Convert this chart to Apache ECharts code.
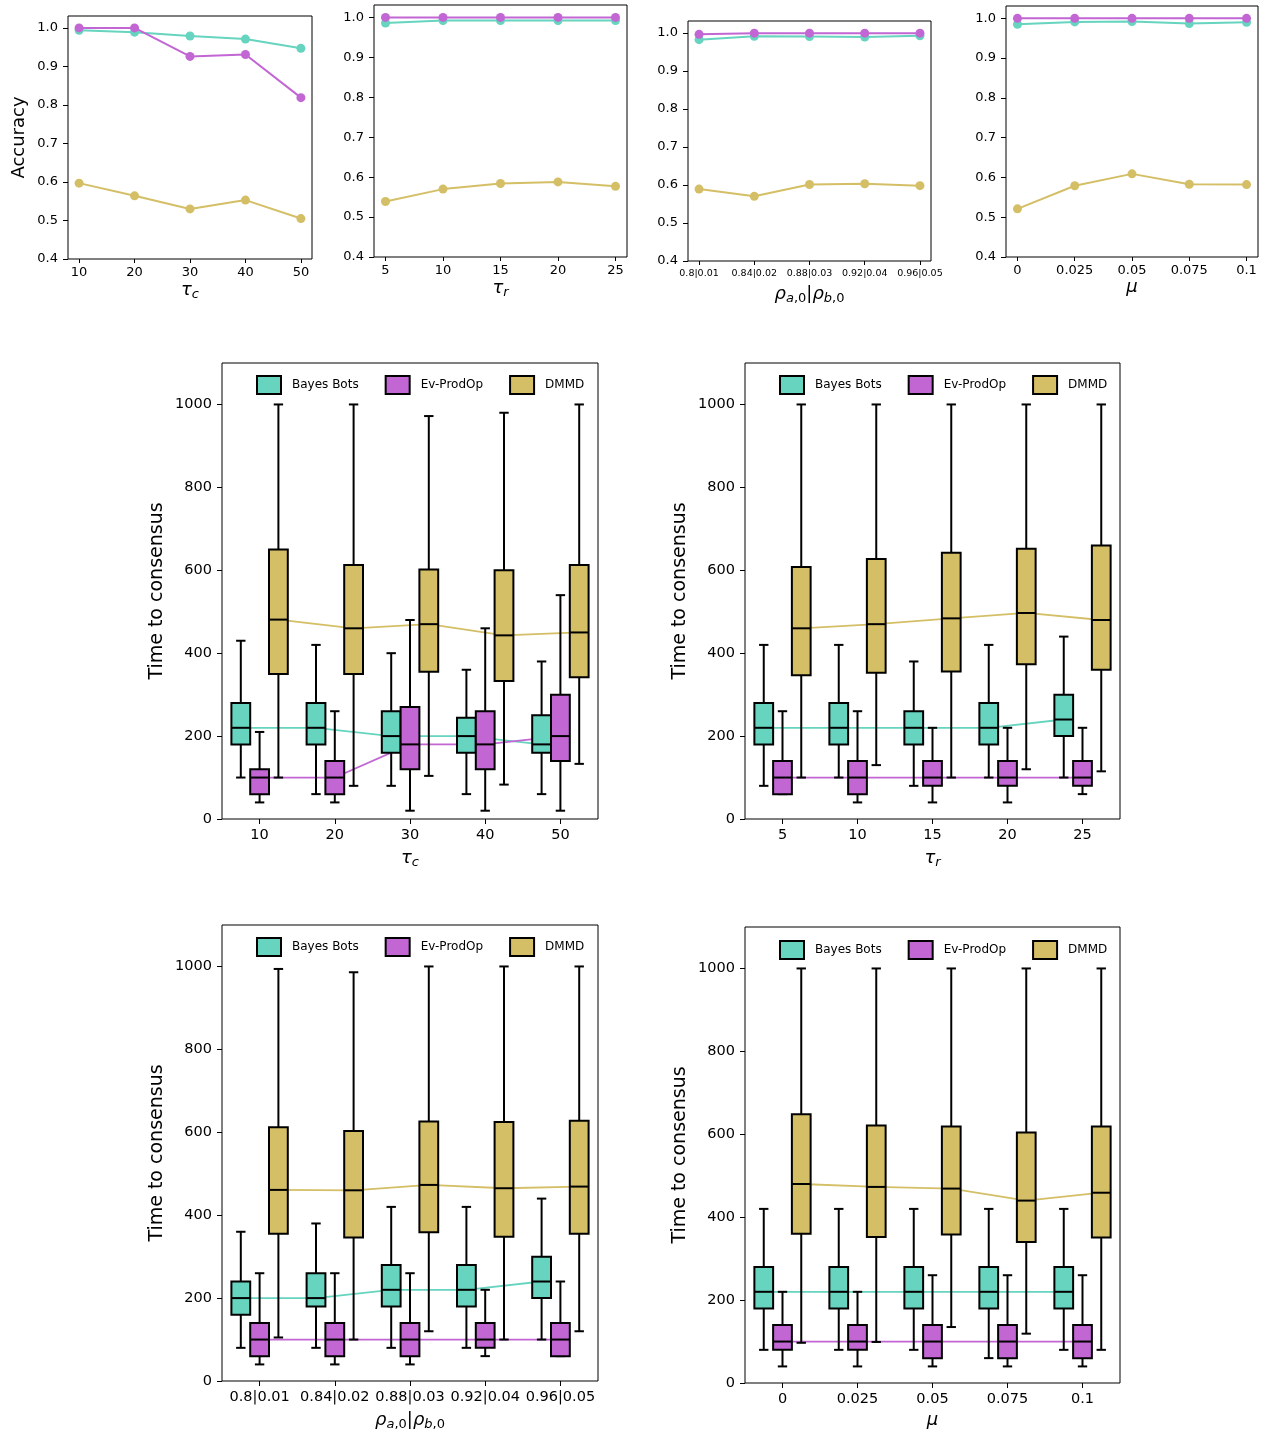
<!DOCTYPE html>
<html><head><meta charset="utf-8">
<script src="https://cdn.jsdelivr.net/npm/echarts@6/dist/echarts.min.js"></script>
<style>html,body{margin:0;padding:0;background:#fff}#c{width:1267px;height:1437px}</style>
</head><body><div id="c"></div>
<script>
// ---------------- DATA ----------------
const methodNames = ['Bayes Bots', 'Ev-ProdOp', 'DMMD'];

const tauCLabels = ['10', '20', '30', '40', '50'];
const tauRLabels = ['5', '10', '15', '20', '25'];
const rhoLabels  = ['0.8|0.01', '0.84|0.02', '0.88|0.03', '0.92|0.04', '0.96|0.05'];
const muLabels   = ['0', '0.025', '0.05', '0.075', '0.1'];

const accTicks  = [0.4, 0.5, 0.6, 0.7, 0.8, 0.9, 1.0];
const timeTicks = [0, 200, 400, 600, 800, 1000];

// Accuracy (top row)
const accTauC_bayes  = [0.994, 0.989, 0.979, 0.971, 0.947];
const accTauC_evprod = [1.000, 1.000, 0.926, 0.931, 0.819];
const accTauC_dmmd   = [0.597, 0.564, 0.530, 0.553, 0.505];

const accTauR_bayes  = [0.986, 0.992, 0.992, 0.992, 0.992];
const accTauR_evprod = [1.000, 1.000, 1.000, 1.000, 1.000];
const accTauR_dmmd   = [0.539, 0.570, 0.584, 0.588, 0.577];

const accRho_bayes   = [0.982, 0.991, 0.990, 0.989, 0.992];
const accRho_evprod  = [0.996, 0.999, 0.999, 0.999, 0.999];
const accRho_dmmd    = [0.589, 0.570, 0.601, 0.603, 0.598];

const accMu_bayes    = [0.985, 0.991, 0.992, 0.987, 0.990];
const accMu_evprod   = [1.000, 1.000, 1.000, 1.000, 1.000];
const accMu_dmmd     = [0.521, 0.579, 0.609, 0.583, 0.582];

// Time to consensus: [lower whisker, Q1, median, Q3, upper whisker]
const timeTauC_bayes  = [[100,180,220,280,430],[60,180,220,280,420],[80,160,200,260,400],[60,160,200,244,360],[60,160,180,250,380]];
const timeTauC_evprod = [[40,60,100,120,210],[40,60,100,140,260],[20,120,180,270,480],[20,120,180,260,460],[20,140,200,300,540]];
const timeTauC_dmmd   = [[100,350,481,650,1000],[80,350,460,613,1000],[104,355,470,602,972],[83,333,443,600,980],[133,342,450,613,1000]];

const timeTauR_bayes  = [[80,180,220,280,420],[100,180,220,280,420],[80,180,220,260,380],[100,180,220,280,420],[100,200,240,300,440]];
const timeTauR_evprod = [[60,60,100,140,260],[40,60,100,140,260],[40,80,100,140,220],[40,80,100,140,220],[60,80,100,140,220]];
const timeTauR_dmmd   = [[100,347,460,608,1000],[130,353,470,627,1000],[100,356,484,642,1000],[120,373,497,652,1000],[115,360,480,660,1000]];

const timeRho_bayes   = [[80,160,200,240,360],[80,180,200,260,380],[80,180,220,280,420],[80,180,220,280,420],[100,200,240,300,440]];
const timeRho_evprod  = [[40,60,100,140,260],[40,60,100,140,260],[40,60,100,140,260],[60,80,100,140,220],[60,60,100,140,240]];
const timeRho_dmmd    = [[105,355,461,612,994],[100,346,460,603,986],[120,359,473,626,1000],[100,348,465,625,1000],[120,355,469,628,1000]];

const timeMu_bayes    = [[80,180,220,280,420],[80,180,220,280,420],[80,180,220,280,420],[60,180,220,280,420],[80,180,220,280,420]];
const timeMu_evprod   = [[40,80,100,140,220],[40,80,100,140,220],[40,60,100,140,260],[40,60,100,140,260],[40,60,100,140,260]];
const timeMu_dmmd     = [[97,360,480,648,1000],[99,352,473,621,1000],[135,358,469,619,1000],[119,340,440,604,1000],[80,351,459,619,1000]];

// ---------------- STYLE / LAYOUT ----------------
const COLORS = ['#66d4bf', '#c266d4', '#d4bf66'];
const FONT = 'DejaVu Sans';
const BOX_W = 0.25;
const OFFSETS = [-0.25, 0, 0.25];

const topGrids = [
  {left: 68,   top: 16, width: 244, height: 243},
  {left: 374,  top: 5,  width: 253, height: 252},
  {left: 688,  top: 21, width: 243, height: 240},
  {left: 1006, top: 6,  width: 252, height: 251}
];
const boxGrids = [
  {left: 222, top: 363, width: 376, height: 456},
  {left: 745, top: 363, width: 375, height: 456},
  {left: 222, top: 925, width: 376, height: 456},
  {left: 745, top: 927, width: 375, height: 456}
];

const subRich = {
  t:  {fontFamily: FONT, fontSize: 18, fontStyle: 'italic', color: '#000'},
  s:  {fontFamily: FONT, fontSize: 13, color: '#000', padding: [9, 0, 0, 0]},
  si: {fontFamily: FONT, fontSize: 13, fontStyle: 'italic', color: '#000', padding: [9, 0, 0, 0]},
  u:  {fontFamily: FONT, fontSize: 18, color: '#000'}
};
const xNames = ['{t|τ}{si|c}', '{t|τ}{si|r}', '{t|ρ}{si|a}{s|,0}{u||}{t|ρ}{si|b}{s|,0}', '{t|μ}'];

const topPanels = [
  {labels: tauCLabels, series: [accTauC_bayes, accTauC_evprod, accTauC_dmmd]},
  {labels: tauRLabels, series: [accTauR_bayes, accTauR_evprod, accTauR_dmmd]},
  {labels: rhoLabels,  series: [accRho_bayes,  accRho_evprod,  accRho_dmmd]},
  {labels: muLabels,   series: [accMu_bayes,   accMu_evprod,   accMu_dmmd]}
];
const boxPanels = [
  {labels: tauCLabels, series: [timeTauC_bayes, timeTauC_evprod, timeTauC_dmmd]},
  {labels: tauRLabels, series: [timeTauR_bayes, timeTauR_evprod, timeTauR_dmmd]},
  {labels: rhoLabels,  series: [timeRho_bayes,  timeRho_evprod,  timeRho_dmmd]},
  {labels: muLabels,   series: [timeMu_bayes,   timeMu_evprod,   timeMu_dmmd]}
];

const grid = [], xAxis = [], yAxis = [], series = [], legend = [];

function tickCfg(vals, len) {
  return {show: true, inside: false, length: len, customValues: vals, lineStyle: {color: '#000', width: 1}};
}
const noLine = {show: false, onZero: false};

// ---- top row: accuracy line charts ----
topPanels.forEach((p, k) => {
  const g = topGrids[k];
  grid.push(Object.assign({show: true, borderColor: '#000', borderWidth: 1, backgroundColor: '#fff', containLabel: false}, g));
  const idx = p.labels.map((_, i) => i);
  xAxis.push({
    type: 'value', gridIndex: k, min: -0.2, max: 4.2,
    axisLine: noLine, splitLine: {show: false},
    axisTick: tickCfg(idx, 4),
    axisLabel: {customValues: idx, formatter: v => p.labels[Math.round(v)], fontFamily: FONT,
      fontSize: k === 2 ? 9.5 : 13, color: '#000', margin: k === 2 ? 8 : 7},
    name: xNames[k], nameLocation: 'middle', nameGap: k === 2 ? 22 : 20,
    nameTextStyle: {rich: subRich}
  });
  yAxis.push({
    type: 'value', gridIndex: k, min: 0.4, max: 1.031,
    axisLine: noLine, splitLine: {show: false},
    axisTick: tickCfg(accTicks, 5),
    axisLabel: {customValues: accTicks, formatter: v => v.toFixed(1), fontFamily: FONT, fontSize: 13, color: '#000', margin: 10},
    name: k === 0 ? 'Accuracy' : '', nameLocation: 'middle', nameGap: 40,
    nameTextStyle: {fontFamily: FONT, fontSize: 18, color: '#000'}
  });
  p.series.forEach((vals, m) => {
    series.push({
      type: 'line', name: methodNames[m] + ' acc', xAxisIndex: k, yAxisIndex: k,
      data: vals.map((v, i) => [i, v]),
      symbol: 'circle', symbolSize: 9, showSymbol: true,
      lineStyle: {color: COLORS[m], width: 2},
      itemStyle: {color: COLORS[m]},
      z: 2 + m, silent: true, animation: false
    });
  });
});

// ---- box plots ----
function boxRender(off, color) {
  return function (params, api) {
    const i = api.value(0);
    const lo = api.value(1), q1 = api.value(2), md = api.value(3), q3 = api.value(4), hi = api.value(5);
    const x = i + off;
    const pTL = api.coord([x - BOX_W / 2, q3]);
    const pBR = api.coord([x + BOX_W / 2, q1]);
    const pMd = api.coord([x, md]);
    const pLo = api.coord([x, lo]);
    const pHi = api.coord([x, hi]);
    const cL = api.coord([x - BOX_W / 4, lo])[0];
    const cR = api.coord([x + BOX_W / 4, lo])[0];
    const ls = {stroke: '#000', lineWidth: 2, fill: null};
    return {
      type: 'group',
      children: [
        {type: 'line', shape: {x1: pLo[0], y1: pLo[1], x2: pLo[0], y2: pBR[1]}, style: ls},
        {type: 'line', shape: {x1: pHi[0], y1: pTL[1], x2: pHi[0], y2: pHi[1]}, style: ls},
        {type: 'line', shape: {x1: cL, y1: pLo[1], x2: cR, y2: pLo[1]}, style: ls},
        {type: 'line', shape: {x1: cL, y1: pHi[1], x2: cR, y2: pHi[1]}, style: ls},
        {type: 'rect', shape: {x: pTL[0], y: pTL[1], width: pBR[0] - pTL[0], height: pBR[1] - pTL[1]},
          style: {fill: color, stroke: '#000', lineWidth: 2}},
        {type: 'line', shape: {x1: pTL[0], y1: pMd[1], x2: pBR[0], y2: pMd[1]}, style: ls}
      ]
    };
  };
}

const legendTops = [370, 370, 932, 935];
boxPanels.forEach((p, j) => {
  const k = j + 4;
  const g = boxGrids[j];
  grid.push(Object.assign({show: true, borderColor: '#000', borderWidth: 1, backgroundColor: '#fff', containLabel: false}, g));
  const idx = p.labels.map((_, i) => i);
  xAxis.push({
    type: 'value', gridIndex: k, min: -0.5, max: 4.5,
    axisLine: noLine, splitLine: {show: false},
    axisTick: tickCfg(idx, 5),
    axisLabel: {customValues: idx, formatter: v => p.labels[Math.round(v)], fontFamily: FONT, fontSize: 14.5, color: '#000', margin: 9},
    name: xNames[j], nameLocation: 'middle', nameGap: 28,
    nameTextStyle: {rich: subRich}
  });
  yAxis.push({
    type: 'value', gridIndex: k, min: 0, max: 1100,
    axisLine: noLine, splitLine: {show: false},
    axisTick: tickCfg(timeTicks, 5),
    axisLabel: {customValues: timeTicks, formatter: v => String(Math.round(v)), fontFamily: FONT, fontSize: 14.5, color: '#000', margin: 10},
    name: 'Time to consensus', nameLocation: 'middle', nameGap: 55,
    nameTextStyle: {fontFamily: FONT, fontSize: 19, color: '#000'}
  });
  // median connector lines (under the boxes)
  p.series.forEach((stats, m) => {
    series.push({
      type: 'line', name: methodNames[m] + ' median', xAxisIndex: k, yAxisIndex: k,
      data: stats.map((s, i) => [i + OFFSETS[m], s[2]]),
      showSymbol: false, symbol: 'none',
      lineStyle: {color: COLORS[m], width: 1.8},
      z: 1, silent: true, animation: false
    });
  });
  p.series.forEach((stats, m) => {
    series.push({
      type: 'custom', name: methodNames[m], xAxisIndex: k, yAxisIndex: k,
      data: stats.map((s, i) => [i, s[0], s[1], s[2], s[3], s[4]]),
      encode: {x: 0, y: [1, 2, 3, 4, 5]},
      renderItem: boxRender(OFFSETS[m], COLORS[m]),
      itemStyle: {color: COLORS[m]},
      z: 3 + m, silent: true, animation: false
    });
  });
  legend.push({
    data: methodNames, left: g.left + 29, top: legendTops[j], orient: 'horizontal',
    icon: 'rect', itemWidth: 24, itemHeight: 18, itemGap: 26,
    itemStyle: {borderColor: '#000', borderWidth: 2},
    textStyle: {fontFamily: FONT, fontSize: 12, color: '#000', padding: [0, 0, 0, 6]},
    selectedMode: false
  });
});

const chart = echarts.init(document.getElementById('c'), null, {renderer: 'canvas'});
chart.setOption({
  animation: false,
  backgroundColor: '#fff',
  grid, xAxis, yAxis, series, legend
});
</script></body></html>
